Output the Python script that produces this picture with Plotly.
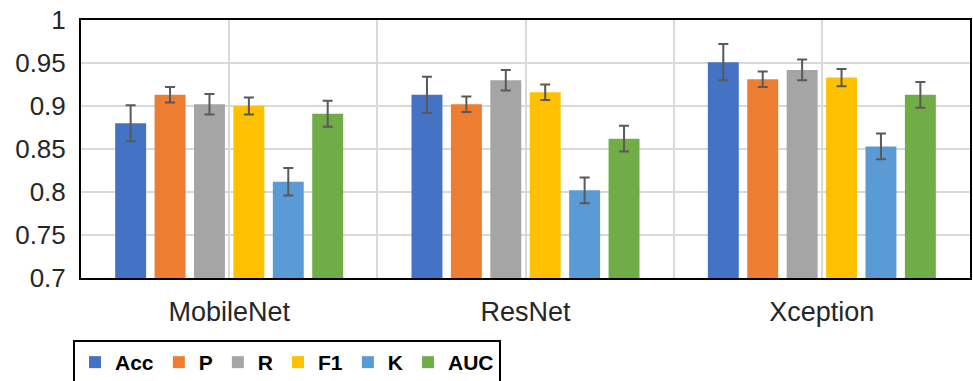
import plotly.graph_objects as go

# Models compared and the metrics reported for each
models = ["MobileNet", "ResNet", "Xception"]
metrics = ["Acc", "P", "R", "F1", "K", "AUC"]

# Mean score per metric, one value per model
acc = [0.880, 0.913, 0.951]
prec = [0.913, 0.902, 0.931]
rec = [0.902, 0.930, 0.942]
f1 = [0.900, 0.916, 0.933]
kappa = [0.812, 0.802, 0.853]
auc = [0.891, 0.862, 0.913]

# Standard deviation shown as error bars
acc_err = [0.021, 0.021, 0.021]
prec_err = [0.009, 0.009, 0.009]
rec_err = [0.012, 0.012, 0.012]
f1_err = [0.010, 0.009, 0.010]
kappa_err = [0.016, 0.015, 0.015]
auc_err = [0.015, 0.015, 0.015]

y_ticks = [0.7, 0.75, 0.8, 0.85, 0.9, 0.95, 1.0]
y_tick_labels = ["0.7", "0.75", "0.8", "0.85", "0.9", "0.95", "1"]

values = [acc, prec, rec, f1, kappa, auc]
errors = [acc_err, prec_err, rec_err, f1_err, kappa_err, auc_err]
colors = ["#4472C4", "#ED7D31", "#A5A5A5", "#FFC000", "#5B9BD5", "#70AD47"]

FONT = "Arial, 'Liberation Sans', sans-serif"
x_pos = list(range(len(models)))

fig = go.Figure()
for name, vals, errs, col in zip(metrics, values, errors, colors):
    fig.add_trace(go.Bar(
        name=name,
        x=x_pos,
        y=vals,
        base=0,
        marker=dict(color=col, line=dict(width=0)),
        error_y=dict(type="data", array=errs, visible=True,
                     color="#595959", thickness=2, width=5),
    ))

grid = "#D9D9D9"
fig.update_layout(
    width=973,
    height=381,
    margin=dict(l=81, r=1, t=20, b=103),
    paper_bgcolor="white",
    plot_bgcolor="white",
    barmode="group",
    bargap=0.202,
    bargroupgap=0.215,
    font=dict(family=FONT, color="#262626"),
    showlegend=True,
    legend=dict(
        orientation="h",
        xref="container", yref="container",
        x=73 / 973, y=1 - 340 / 381,
        xanchor="left", yanchor="top",
        bordercolor="black", borderwidth=2,
        bgcolor="white",
        font=dict(family=FONT, size=21, color="black", weight="bold"),
        itemclick=False,
    ),
    xaxis=dict(
        range=[-0.5, 2.5],
        tickmode="array",
        tickvals=x_pos,
        ticktext=models,
        ticks="",
        tickfont=dict(size=27, color="#262626"),
        ticklabelstandoff=9,
        showgrid=True,
        gridcolor=grid,
        gridwidth=2,
        minor=dict(dtick=0.5, tick0=-0.5, showgrid=True,
                   gridcolor=grid, gridwidth=2),
        showline=True, mirror=True, linecolor="black", linewidth=2,
        zeroline=False,
        fixedrange=True,
    ),
    yaxis=dict(
        range=[0.7, 1.0],
        tickmode="array",
        tickvals=y_ticks,
        ticktext=y_tick_labels,
        ticks="",
        tickfont=dict(size=26, color="#262626"),
        ticklabelstandoff=8,
        showgrid=True,
        gridcolor=grid,
        gridwidth=2,
        showline=True, mirror=True, linecolor="black", linewidth=2,
        zeroline=False,
        fixedrange=True,
    ),
)

fig.write_html("out.html")
